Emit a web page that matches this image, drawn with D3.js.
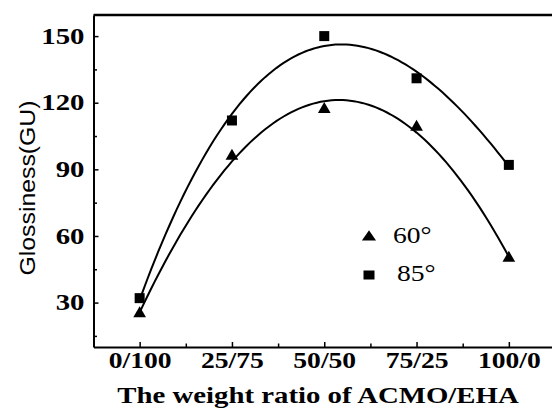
<!DOCTYPE html>
<html>
<head>
<meta charset="utf-8">
<script src="https://cdn.jsdelivr.net/npm/d3@7"></script>
<style>
  body { margin: 0; background: white; }
</style>
</head>
<body>
<div id="chart"></div>
<script>
// weight ratio categories (ACMO/EHA)
var categories = ["0/100", "25/75", "50/50", "75/25", "100/0"];
// glossiness values
var gloss60 = [25, 96, 117, 109, 50];
var gloss85 = [32, 112, 150, 131, 92];
var yTicks = [30, 60, 90, 120, 150];

var width = 552, height = 409;
var serif = "'Liberation Serif', 'Times New Roman', serif";
var stretch = "scale(1.2,1)"; // the original figure is a bit wide

var svg = d3.select("#chart").append("svg")
    .attr("width", width)
    .attr("height", height);

var x = d3.scaleLinear().domain([-0.5, 4.5]).range([93.5, 555]);
var y = d3.scaleLinear().domain([10, 159.5]).range([347, 15]);

// least squares polynomial fit (cubic), like the origin fit curves
function polyFit(ys, deg) {
    var m = deg + 1;
    var A = [];
    for (var r = 0; r < m; r++) {
        A.push([]);
        for (var c = 0; c <= m; c++) A[r].push(0);
    }
    ys.forEach(function (v, i) {
        for (var r = 0; r < m; r++) {
            for (var c = 0; c < m; c++) A[r][c] += Math.pow(i, r + c);
            A[r][m] += Math.pow(i, r) * v;
        }
    });
    for (var c = 0; c < m; c++) {
        for (var r = c + 1; r < m; r++) {
            var f = A[r][c] / A[c][c];
            for (var k = c; k <= m; k++) A[r][k] -= f * A[c][k];
        }
    }
    var co = [];
    for (var r = m - 1; r >= 0; r--) {
        var s = A[r][m];
        for (var k = r + 1; k < m; k++) s -= A[r][k] * co[k];
        co[r] = s / A[r][r];
    }
    return function (t) {
        var s = 0;
        for (var k = 0; k < m; k++) s += co[k] * Math.pow(t, k);
        return s;
    };
}

// top frame line
svg.append("line")
    .attr("x1", x(-0.5)).attr("x2", x(4.5))
    .attr("y1", y(159.5)).attr("y2", y(159.5))
    .attr("stroke", "black").attr("stroke-width", 2.5);

var xAxis = svg.append("g")
    .attr("transform", "translate(0," + y(10) + ")")
    .call(d3.axisBottom(x).tickValues([0, 1, 2, 3, 4]).tickSizeInner(-5).tickSizeOuter(0)
        .tickFormat(function (d) { return categories[d]; }));
xAxis.select(".domain").attr("stroke-width", 2);
xAxis.selectAll(".tick line").attr("stroke-width", 1.5);
xAxis.selectAll("text")
    .attr("y", 21)
    .attr("dy", 0)
    .attr("transform", stretch)
    .attr("font-size", 23)
    .attr("font-weight", "bold")
    .style("font-family", serif);

svg.append("g")
    .attr("transform", "translate(0," + y(10) + ")")
    .call(d3.axisBottom(x).tickValues([0.5, 1.5, 2.5, 3.5]).tickSizeInner(-3.5).tickSizeOuter(0).tickFormat(""))
    .call(function (g) { g.select(".domain").remove(); g.selectAll("line").attr("stroke-width", 1.5); });

var yAxis = svg.append("g")
    .attr("transform", "translate(" + x(-0.5) + ",0)")
    .call(d3.axisLeft(y).tickValues(yTicks).tickSizeInner(-5).tickSizeOuter(0));
yAxis.select(".domain").attr("stroke-width", 2);
yAxis.selectAll(".tick line").attr("stroke-width", 1.5);
yAxis.selectAll("text")
    .attr("x", -7.5)
    .attr("dy", "0.3em")
    .attr("transform", stretch)
    .attr("font-size", 24)
    .attr("font-weight", "bold")
    .style("font-family", serif);

svg.append("g")
    .attr("transform", "translate(" + x(-0.5) + ",0)")
    .call(d3.axisLeft(y).tickValues([15, 45, 75, 105, 135]).tickSizeInner(-3.5).tickSizeOuter(0).tickFormat(""))
    .call(function (g) { g.select(".domain").remove(); g.selectAll("line").attr("stroke-width", 1.5); });

// axis titles
svg.append("text")
    .attr("transform", "translate(318,403) " + stretch)
    .attr("text-anchor", "middle")
    .attr("font-size", 24)
    .attr("font-weight", "bold")
    .style("font-family", serif)
    .text("The weight ratio of ACMO/EHA");

svg.append("text")
    .attr("transform", "translate(35,188) rotate(-90) scale(1,1.2)")
    .attr("text-anchor", "middle")
    .attr("textLength", 175)
    .attr("lengthAdjust", "spacingAndGlyphs")
    .style("font-family", "'Liberation Sans', Arial, sans-serif")
    .attr("font-size", 19)
    .text("Glossiness(GU)");

// fitted curves
var line = d3.line()
    .x(function (d) { return x(d[0]); })
    .y(function (d) { return y(d[1]); });

[gloss60, gloss85].forEach(function (s) {
    var f = polyFit(s, 3);
    var pts = d3.range(0, 4.0001, 0.04).map(function (t) { return [t, f(t)]; });
    svg.append("path")
        .attr("d", line(pts))
        .attr("fill", "none")
        .attr("stroke", "black")
        .attr("stroke-width", 2);
});

// markers
var tri = d3.symbol().type(d3.symbolTriangle).size(70);
svg.selectAll(".tri")
    .data(gloss60)
    .enter()
    .append("path")
    .attr("class", "tri")
    .attr("d", tri)
    .attr("transform", function (d, i) { return "translate(" + x(i) + "," + y(d) + ")"; })
    .attr("fill", "black");

svg.selectAll(".sq")
    .data(gloss85)
    .enter()
    .append("rect")
    .attr("class", "sq")
    .attr("x", function (d, i) { return x(i) - 5; })
    .attr("y", function (d) { return y(d) - 5; })
    .attr("width", 10)
    .attr("height", 10)
    .attr("fill", "black");

// legend
var legend = svg.append("g").attr("transform", "translate(369,237)");
legend.append("path")
    .attr("d", d3.symbol().type(d3.symbolTriangle).size(60))
    .attr("transform", stretch)
    .attr("fill", "black");
legend.append("text")
    .attr("transform", "translate(24,6) " + stretch)
    .attr("font-size", 23)
    .style("font-family", serif)
    .text("60°");
legend.append("rect").attr("x", -5.5).attr("y", 33.5).attr("width", 11).attr("height", 9).attr("fill", "black");
legend.append("text")
    .attr("transform", "translate(28,44) " + stretch)
    .attr("font-size", 23)
    .style("font-family", serif)
    .text("85°");
</script>
</body>
</html>
